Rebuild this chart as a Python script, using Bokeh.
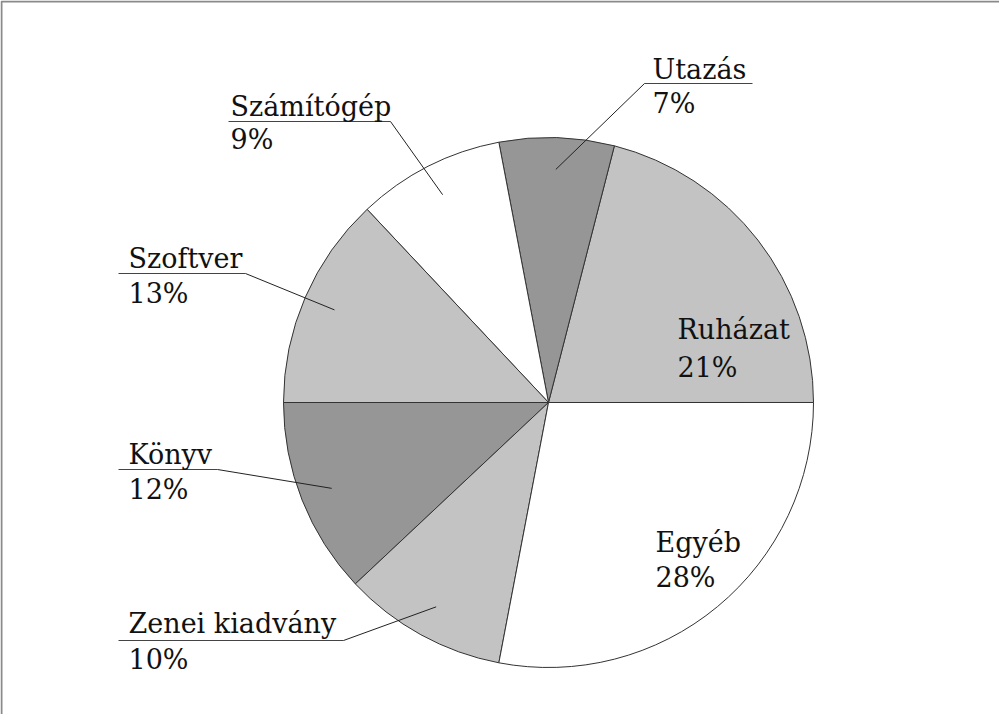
import numpy as np
from bokeh.plotting import figure
from bokeh.models import Range1d, ColumnDataSource
from bokeh.core.properties import value
from bokeh.embed import file_html
from bokeh.resources import INLINE

# ---- data ----
categories = ["Ruházat", "Utazás", "Számítógép", "Szoftver", "Könyv", "Zenei kiadvány", "Egyéb"]
percents = [21, 7, 9, 13, 12, 10, 28]
colors = ["#c3c3c3", "#969696", "#ffffff", "#c3c3c3", "#969696", "#c3c3c3", "#ffffff"]

# ---- layout (page pixel coordinates) ----
W, H = 999, 714
def Y(py):
    return 722 - py

CX, CY, R = 556, Y(410), 265
FONT = value("DejaVu Serif")
FS = "27px"
TXT = "#111111"
TEXT_SHIFT = 8  # compensates svg baseline placement

# label layout: name (left x, baseline y), pct baseline y, underline (x0, x1, y), leader side
label_layout = {
    "Utazás":         ((660, 85),  119, (652, 760, 91),  "left"),
    "Számítógép":     ((238, 122), 155, (236, 398, 129), "right"),
    "Szoftver":       ((136, 274), 309, (126, 253, 281), "right"),
    "Könyv":          ((136, 470), 505, (126, 225, 477), "right"),
    "Zenei kiadvány": ((136, 639), 675, (126, 351, 648), "right"),
    "Ruházat":        ((685, 345), 383, None, None),
    "Egyéb":          ((663, 558), 593, None, None),
}

p = figure(width=W, height=H, x_range=Range1d(8, 1007), y_range=Range1d(0, 714),
           x_axis_type=None, y_axis_type=None, output_backend="svg",
           toolbar_location=None, min_border=0)
p.grid.visible = False
p.outline_line_color = None
p.background_fill_color = "white"
p.border_fill_color = "white"

# frame (top and left edges visible)
p.line([9, 9, 1007], [0, 713, 713], line_color="#8a8a8a", line_width=2)

frac = np.array(percents, dtype=float) / sum(percents)
cum = np.concatenate([[0.0], np.cumsum(frac)]) * 2 * np.pi
starts, ends = cum[:-1], cum[1:]
mids = (starts + ends) / 2

src = ColumnDataSource(dict(cat=categories, start=starts, end=ends, color=colors))
p.wedge(x=CX, y=CY, radius=R, start_angle="start", end_angle="end", direction="anticlock",
        fill_color="color", line_color="#333333", line_width=1, source=src)

# leaders, underlines, labels
for cat, pct, mid in zip(categories, percents, mids):
    (tx, ty), py, ul, side = label_layout[cat]
    if ul is not None:
        x0, x1, uy = ul
        p.line([x0, x1], [Y(uy), Y(uy)], line_color="#444444", line_width=1)
        ax = x0 if side == "left" else x1
        ex = CX + 0.88 * R * np.cos(mid)
        ey = CY + 0.88 * R * np.sin(mid)
        p.line([ax, ex], [Y(uy), ey], line_color="#222222", line_width=1)
    p.text(x=[tx], y=[Y(ty) + TEXT_SHIFT], text=[cat], text_font=FONT, text_font_size=FS,
           text_color=TXT, text_align="left", text_baseline="alphabetic")
    p.text(x=[tx], y=[Y(py) + TEXT_SHIFT], text=[f"{pct}%"], text_font=FONT, text_font_size=FS,
           text_color=TXT, text_align="left", text_baseline="alphabetic")

open("out.html", "w").write(file_html(p, INLINE))
